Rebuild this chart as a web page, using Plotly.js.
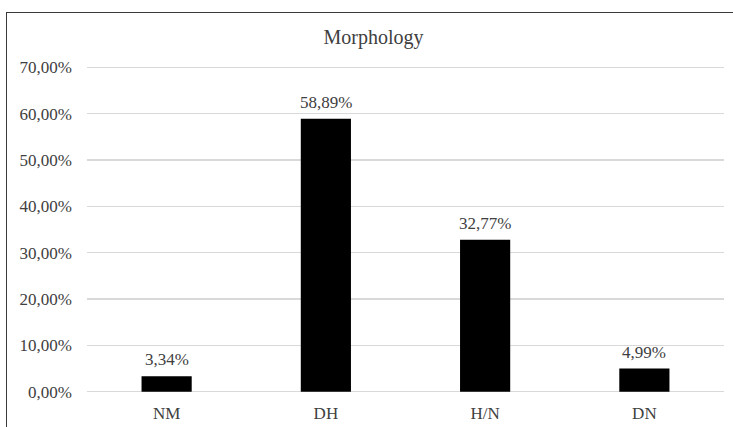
<!DOCTYPE html>
<html>
<head>
<meta charset="utf-8">
<script src="https://cdn.plot.ly/plotly-3.0.1.min.js"></script>
<style>
  html, body { margin: 0; padding: 0; background: #fff; overflow: hidden; }
  #wrap { position: relative; width: 733px; height: 427px; }
  #chart { width: 733px; height: 427px; }
  #frame {
    position: absolute; left: 6px; top: 12px; width: 800px; height: 500px;
    border: 1.5px solid #3a3a3a; pointer-events: none; box-sizing: border-box;
  }
</style>
</head>
<body>
<div id="wrap">
  <div id="chart"></div>
  <div id="frame"></div>
</div>
<script>
// Share of each morphology type, in percent
const categories = ['NM', 'DH', 'H/N', 'DN'];
const shares = [3.34, 58.89, 32.77, 4.99];
const tickValues = [0, 10, 20, 30, 40, 50, 60, 70];

const fmt = v => v.toFixed(2).replace('.', ',') + '%';
const serif = 'Liberation Serif, Times New Roman, serif';

const trace = {
  type: 'bar',
  x: categories,
  y: shares,
  marker: { color: '#000000' },
  hoverinfo: 'skip'
};

const labels = categories.map((c, i) => ({
  x: c, y: shares[i], xref: 'x', yref: 'y',
  text: fmt(shares[i]), showarrow: false,
  yanchor: 'bottom', yshift: 5,
  font: { family: serif, size: 17, color: '#404040' }
}));

const layout = {
  width: 733, height: 427,
  margin: { l: 87, r: 9, t: 65, b: 33 },
  paper_bgcolor: '#ffffff', plot_bgcolor: '#ffffff',
  separators: ',.',
  showlegend: false,
  bargap: 0.685,
  font: { family: serif, color: '#404040' },
  title: {
    text: 'Morphology',
    x: 0.5095, xanchor: 'center',
    y: 0.913, yanchor: 'middle',
    font: { family: serif, size: 20, color: '#404040' }
  },
  xaxis: {
    type: 'category',
    showgrid: false, zeroline: false, showline: false, ticks: '',
    ticklabelstandoff: 7,
    tickfont: { family: serif, size: 17, color: '#404040' }
  },
  yaxis: {
    range: [-0.5, 70.5],
    tickvals: tickValues,
    ticktext: tickValues.map(fmt),
    showgrid: true, gridcolor: '#d9d9d9', gridwidth: 1.5,
    zeroline: false, showline: false, ticks: '',
    ticklabelstandoff: 14,
    tickfont: { family: serif, size: 17, color: '#404040' }
  },
  annotations: labels
};

Plotly.newPlot('chart', [trace], layout, { staticPlot: true, displayModeBar: false });
</script>
</body>
</html>
